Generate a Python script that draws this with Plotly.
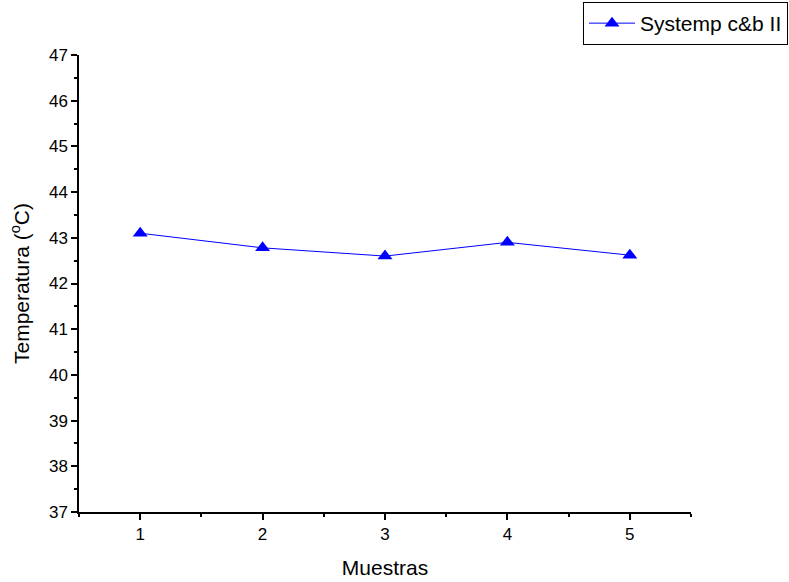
import plotly.graph_objects as go

# Sample numbers and measured temperatures
muestras = [1, 2, 3, 4, 5]
temperatura = [43.1, 42.78, 42.6, 42.9, 42.62]
serie = "Systemp c&b II"

fig = go.Figure()
fig.add_trace(go.Scatter(
    x=muestras, y=temperatura, name=serie,
    mode="lines+markers",
    line=dict(color="#0000ff", width=1),
    marker=dict(symbol="triangle-up", size=13, color="#0000ff"),
))

font = "Liberation Sans, Arial, sans-serif"
axis_common = dict(
    showline=True, linecolor="black", linewidth=1.5,
    ticks="outside", ticklen=6, tickwidth=1.5, tickcolor="black",
    showgrid=False, zeroline=False, mirror=False,
    tickfont=dict(family=font, size=17, color="black"),
    minor=dict(ticks="outside", ticklen=3, tickwidth=1.5, tickcolor="black", dtick=0.5),
)

fig.update_layout(
    width=789, height=582,
    margin=dict(l=79, r=98, t=55, b=70, autoexpand=False),
    plot_bgcolor="white", paper_bgcolor="white",
    font=dict(family=font, color="black"),
    xaxis=dict(axis_common, range=[0.5, 5.5], tickvals=muestras, dtick=1,
               title=dict(text="Muestras", font=dict(size=21), standoff=17)),
    yaxis=dict(axis_common, range=[37, 47], dtick=1, tick0=37,
               title=dict(text="Temperatura (<sup>o</sup>C)", font=dict(size=21), standoff=14)),
    legend=dict(x=1.1585, y=1.116, xanchor="right", yanchor="top",
                bordercolor="black", borderwidth=1, bgcolor="white",
                font=dict(size=21), tracegroupgap=0, itemwidth=46),
    showlegend=True,
)

fig.write_html("out.html")
